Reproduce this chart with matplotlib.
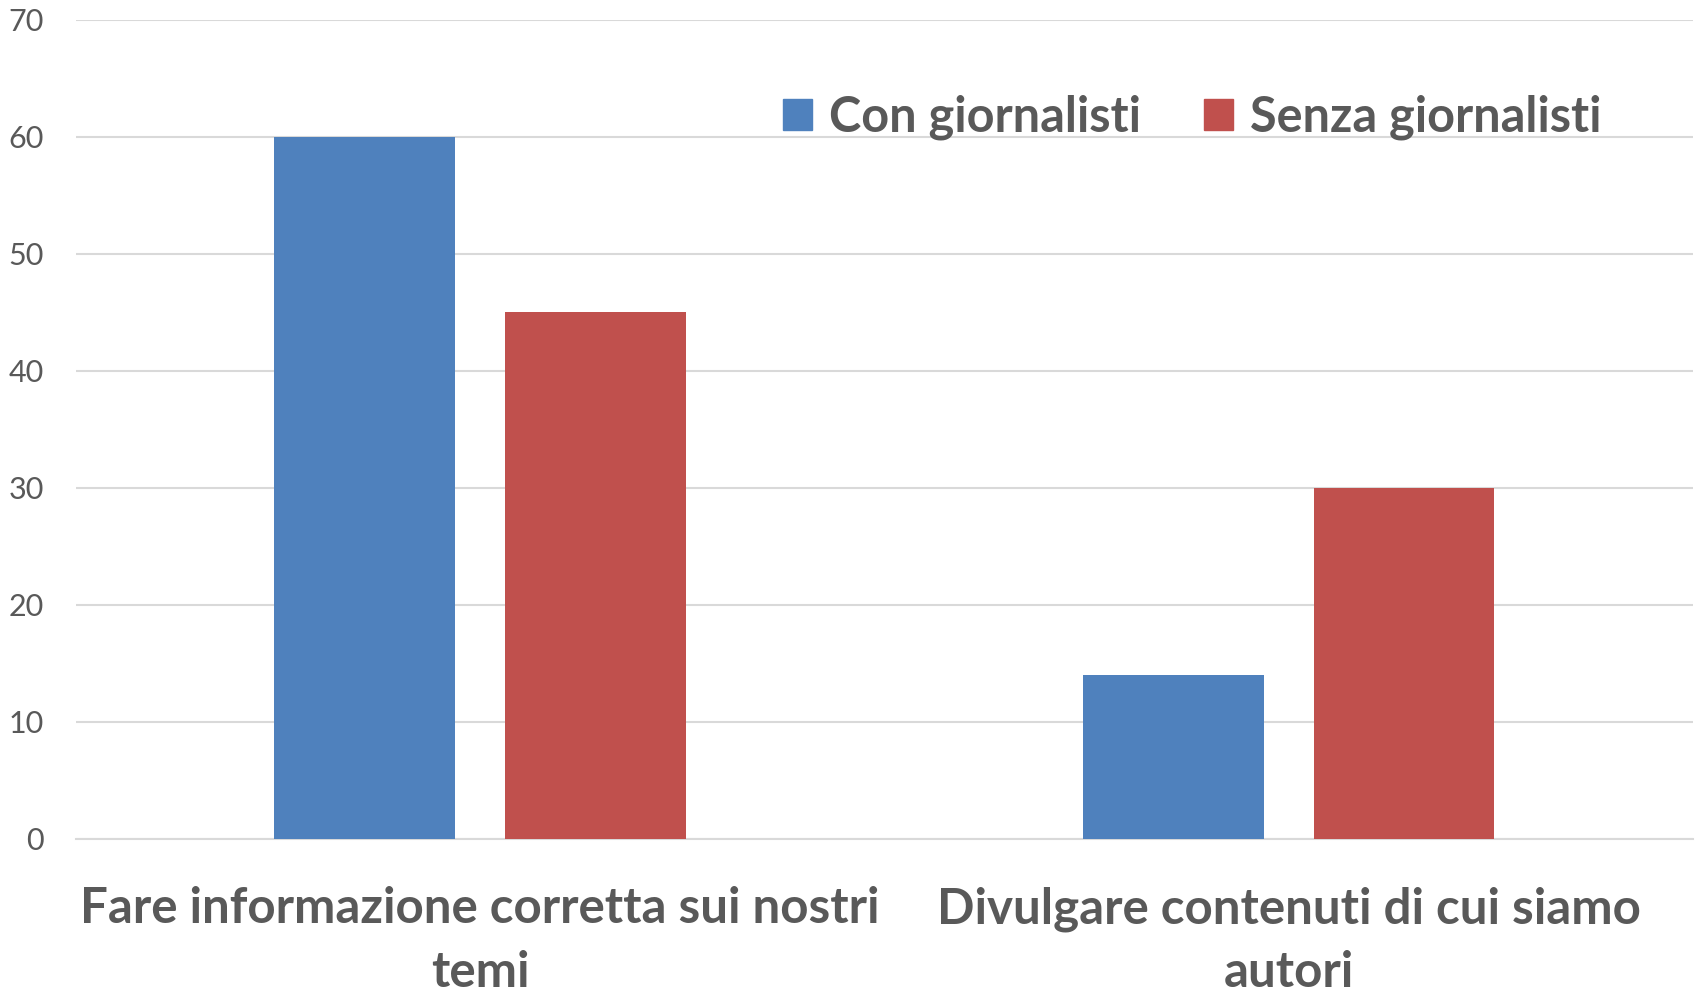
import matplotlib
matplotlib.use("Agg")
import matplotlib.pyplot as plt
from matplotlib.patches import Patch
import numpy as np

categories = ["Fare informazione corretta sui nostri\ntemi",
              "Divulgare contenuti di cui siamo\nautori"]
series_names = ["Con giornalisti", "Senza giornalisti"]
con_values = [60, 14]
senza_values = [45, 30]
yticks = [0, 10, 20, 30, 40, 50, 60, 70]

blue = "#4F81BD"
red = "#C0504D"
txt = "#595959"
font = "Lato"

fig = plt.figure(figsize=(16.96, 9.94), dpi=100)
ax = fig.add_axes([75.7/1696, 1 - 839/994, (1693-75.7)/1696, (839-19.5)/994])

x = np.arange(len(categories))
w = 0.2235
off = 0.1425
ax.bar(x - off, con_values, w, color=blue, zorder=3, label=series_names[0])
ax.bar(x + off, senza_values, w, color=red, zorder=3, label=series_names[1])

ax.set_xlim(-0.5, 1.5)
ax.set_ylim(0, 70)
ax.set_yticks(yticks)
ax.yaxis.grid(True, color="#d9d9d9", linewidth=1.5, zorder=0)
ax.set_axisbelow(True)
for s in ["top", "right", "left"]:
    ax.spines[s].set_visible(False)
ax.spines["bottom"].set_color("#d9d9d9")
ax.spines["bottom"].set_linewidth(1.5)
ax.tick_params(axis="y", length=0, pad=23, labelsize=22, labelcolor=txt)
ax.tick_params(axis="x", length=0, pad=34)
for lab in ax.get_yticklabels():
    lab.set_fontfamily(font)
ax.set_xticks(x)
ax.set_xticklabels(categories, fontsize=35.5, fontweight="bold", color=txt,
                   fontfamily=font, linespacing=1.5)

handles = [Patch(color=blue), Patch(color=red)]
leg = ax.legend(handles, series_names, loc="upper left", bbox_to_anchor=(0.41, 0.962),
                ncol=2, frameon=False, handlelength=0.6, handleheight=0.6,
                handletextpad=0.35, columnspacing=1.3,
                prop={"family": font, "weight": "bold", "size": 35})
for t in leg.get_texts():
    t.set_color(txt)

fig.savefig("out.png", dpi=100, facecolor="white")
